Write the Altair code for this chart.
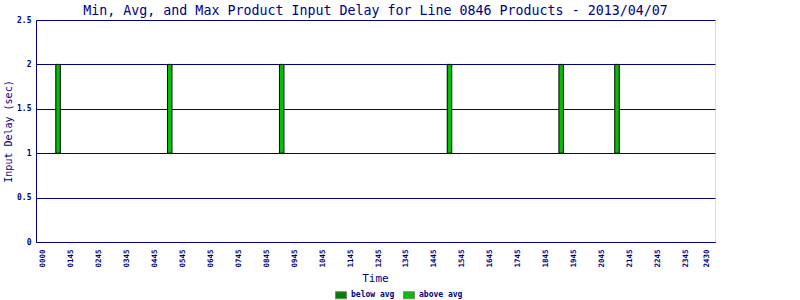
import altair as alt
import pandas as pd

# Data
bar_times = [0.54, 4.54, 8.55, 14.56, 18.56, 20.56]   # hours (x position)
bar_min = [1, 1, 1, 1, 1, 1]
bar_max = [2, 2, 2, 2, 2, 2]
bar_class = ["above avg"] * 6

tick_pos = list(range(24)) + [23.78]
tick_labels = ["0000"] + ["%02d45" % h for h in range(1, 24)] + ["2430"]

y_ticks = [0, 0.5, 1, 1.5, 2, 2.5]
legend_items = ["below avg", "above avg"]
legend_colors = ["#008000", "#00C000"]

NAVY = "#000080"
FONT = "DejaVu Sans Mono"

df = pd.DataFrame({"t": bar_times, "lo": bar_min, "hi": bar_max, "cls": bar_class})

label_expr = "[" + ",".join("'%s'" % s for s in tick_labels) + "][indexof([" + \
    ",".join(str(p) for p in tick_pos) + "], datum.value)]"

chart = alt.Chart(df).mark_bar(size=4.5, stroke="black", strokeWidth=1).encode(
    x=alt.X("t:Q",
            scale=alt.Scale(domain=[-0.25, 24.07], nice=False, zero=False, padding=0),
            axis=alt.Axis(values=tick_pos, labelExpr=label_expr, title="Time",
                          grid=False, ticks=False, domainColor=NAVY,
                          labelAngle=270, labelAlign="right", labelBaseline="middle",
                          labelFont=FONT, labelFontSize=7.5, labelFontWeight="bold",
                          labelColor=NAVY, labelPadding=7, labelOverlap=False,
                          labelFlush=False,
                          titleFont=FONT, titleFontSize=11, titleFontWeight="normal",
                          titleColor=NAVY, titleX=339, titleY=36,
                          titleBaseline="middle")),
    y=alt.Y("lo:Q",
            scale=alt.Scale(domain=[0, 2.5], nice=False, padding=0),
            axis=alt.Axis(values=y_ticks, format="~g", title="Input Delay (sec)",
                          grid=True, gridColor=NAVY, gridOpacity=1, gridWidth=1,
                          ticks=False, domainColor=NAVY,
                          labelFont=FONT, labelFontSize=8, labelFontWeight="bold",
                          labelColor=NAVY, labelPadding=5, labelFlush=False,
                          titleFont=FONT, titleFontSize=10, titleFontWeight="normal",
                          titleColor=NAVY, titleX=-28, titleY=111, titleAngle=270,
                          titleBaseline="middle")),
    y2="hi:Q",
    color=alt.Color("cls:N",
                    scale=alt.Scale(domain=legend_items, range=legend_colors),
                    legend=alt.Legend(title=None, orient="none", legendX=299, legendY=269,
                                      direction="horizontal", columns=2,
                                      symbolType="M-1,-0.64L1,-0.64L1,0.64L-1,0.64Z",
                                      symbolSize=121, symbolStrokeColor="#808080",
                                      symbolStrokeWidth=1, symbolOpacity=1,
                                      labelFont=FONT, labelFontSize=8, labelColor=NAVY,
                                      labelFontWeight="bold", columnPadding=6,
                                      labelOffset=4)),
).properties(
    width=679, height=222,
    title=alt.TitleParams("Min, Avg, and Max Product Input Delay for Line 0846 Products - 2013/04/07",
                          font=FONT, fontSize=13.3, fontWeight="normal", color=NAVY,
                          anchor="middle", offset=-1),
    autosize=alt.AutoSizeParams(type="none"),
    padding={"left": 36, "top": 20, "right": 85, "bottom": 58},
).configure_view(stroke=NAVY, strokeWidth=1).configure(background="white")

chart.save("out.html", embed_options={"renderer": "svg", "actions": False})
